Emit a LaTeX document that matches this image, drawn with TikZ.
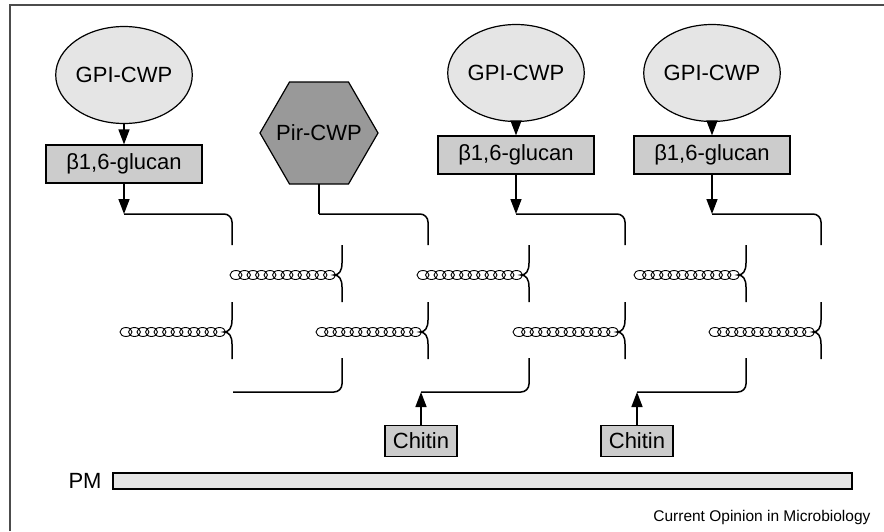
\documentclass[tikz,border=0pt]{standalone}
\usepackage{fontspec}
\setmainfont{Liberation Sans}
\usetikzlibrary{arrows.meta,shapes.geometric}
\definecolor{lightfill}{gray}{0.9}
\definecolor{boxfill}{gray}{0.8}
\definecolor{hexfill}{gray}{0.6}
\tikzset{
  label font/.style={font=\fontsize{22}{26}\selectfont},
  cwp/.style={draw, line width=1.2pt, fill=lightfill, ellipse, minimum width=100pt,
    minimum height=97pt, inner sep=0pt, label font},
  glucan/.style={draw, line width=1.2pt, fill=boxfill, minimum width=156pt,
    minimum height=38pt, inner sep=0pt, label font},
  chitin/.style={draw, line width=1.2pt, fill=boxfill, minimum width=72pt,
    minimum height=31pt, inner sep=0pt, label font},
  link/.style={line width=1.5pt},
  arr/.style={link, -{Triangle[length=15pt,width=11pt]}},
  loop/.style={line width=0.9pt}
}

\begin{document}
\begin{tikzpicture}[x=1pt,y=-1pt]
    \useasboundingbox (0,0) rectangle (884,531);

    % Frame
    \draw[line width=1.5pt, black!70] (10,531) -- (10,5) -- (884,5);

    % Wall proteins
    \node[cwp] (gpi1) at (124,75) {GPI-CWP};
    \node[cwp] (gpi2) at (516,73) {GPI-CWP};
    \node[cwp] (gpi3) at (712,73) {GPI-CWP};
    \draw[line width=1.2pt, fill=hexfill] (260,133) -- (289.5,82) -- (348.5,82)
        -- (378,133) -- (348.5,184) -- (289.5,184) -- cycle;
    \node[label font] (pir) at (319,133) {Pir-CWP};
    \coordinate (pirfoot) at (319,184);

    % beta-glucan boxes
    \node[glucan] (glu1) at (124,164) {β1,6-glucan};
    \node[glucan] (glu2) at (516,155) {β1,6-glucan};
    \node[glucan] (glu3) at (712,155) {β1,6-glucan};

    % Links into the glucan network
    \coordinate (t1) at (124,214);
    \coordinate (t2) at (319,214);
    \coordinate (t3) at (516,214);
    \coordinate (t4) at (712,214);
    \draw[arr] (gpi1) -- (glu1);
    \draw[arr] (gpi2) -- (glu2);
    \draw[arr] (gpi3) -- (glu3);
    \draw[arr] (glu1) -- (t1);
    \draw[link] (pirfoot) -- (t2);
    \draw[arr] (glu2) -- (t3);
    \draw[arr] (glu3) -- (t4);
    \draw[link, rounded corners=8pt] (t1) -| (232,245);
    \draw[link, rounded corners=8pt] (t2) -| (428,245);
    \draw[link, rounded corners=8pt] (t3) -| (625,245);
    \draw[link, rounded corners=8pt] (t4) -| (821,245);

    % beta1,3-glucan chains
    \foreach \bx/\by in {342/275, 529/275, 746/275, 232/332, 428/332, 625/332, 821/332} {
        \foreach \k in {0,...,11}
            \draw[loop] (\bx-106+8.5*\k,\by) ellipse [x radius=6, y radius=4.5];
        \draw[link] (\bx,\by-30) -- (\bx,\by-12)
            .. controls (\bx,\by-4) and (\bx-3,\by) .. (\bx-8,\by)
            .. controls (\bx-3,\by) and (\bx,\by+4) .. (\bx,\by+12) -- (\bx,\by+27);
    }

    % Chitin
    \node[chitin] (ch1) at (421,441) {Chitin};
    \node[chitin] (ch2) at (637,441) {Chitin};
    \coordinate (c1) at (421,392);
    \coordinate (c2) at (637,392);
    \coordinate (c0) at (233,392);
    \draw[arr] (ch1) -- (c1);
    \draw[arr] (ch2) -- (c2);
    \draw[link, rounded corners=8pt] (c0) -| (342,358);
    \draw[link, rounded corners=8pt] (c1) -| (529,358);
    \draw[link, rounded corners=8pt] (c2) -| (746,358);

    % Plasma membrane
    \node[draw, line width=1.2pt, fill=lightfill, minimum width=739pt, minimum height=16pt,
        inner sep=0pt] (pm) at (482.5,481) {};
    \node[label font] (pmlabel) at (85,481) {PM};

    \node[anchor=east, font=\fontsize{15.5}{18}\selectfont] (credit) at (874,517)
        {Current Opinion in Microbiology};
\end{tikzpicture}
\end{document}
